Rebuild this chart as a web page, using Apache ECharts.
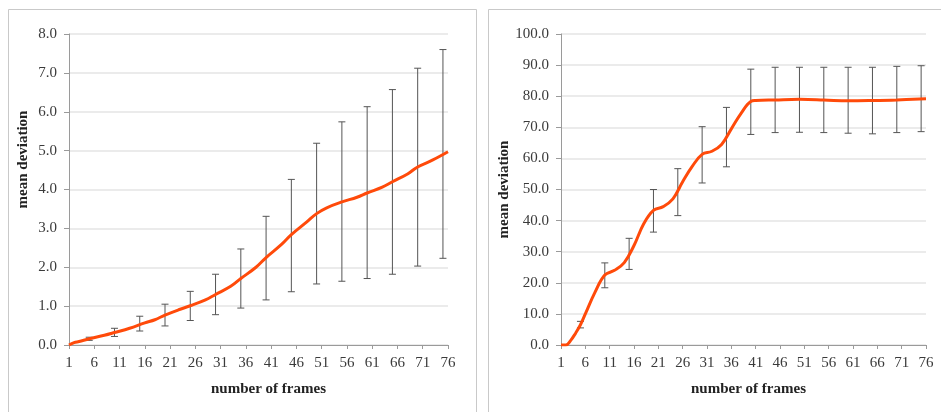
<!DOCTYPE html>
<html>
<head>
<meta charset="utf-8">
<script src="https://cdn.jsdelivr.net/npm/echarts@6/dist/echarts.min.js"></script>
<style>
  html, body { margin: 0; padding: 0; background: #fff; }
  #chart { width: 941px; height: 412px; }
</style>
</head>
<body>
<div id="chart"></div>
<script>
  // frame numbers on the x axis
  var frames = [];
  for (var i = 1; i <= 76; i++) frames.push(String(i));

  // left panel: mean line (frame, value)
  var leftLineFrames = [1, 2, 3, 5, 8, 10, 13, 16, 18, 20, 23, 25, 28, 30, 33, 35, 38, 40, 43, 45, 48, 50, 52, 55, 58, 60, 63, 65, 68, 70, 73, 76];
  var leftLineValues = [0, 0.06, 0.09, 0.16, 0.25, 0.32, 0.43, 0.57, 0.65, 0.77, 0.92, 1.01, 1.16, 1.30, 1.51, 1.71, 2.00, 2.25, 2.58, 2.84, 3.16, 3.38, 3.53, 3.68, 3.80, 3.91, 4.06, 4.20, 4.40, 4.58, 4.76, 4.97];

  // error bars, both panels share the same frames
  var errFrames = [5, 10, 15, 20, 25, 30, 35, 40, 45, 50, 55, 60, 65, 70, 75];
  var leftErrLow = [0.12, 0.22, 0.36, 0.49, 0.63, 0.78, 0.95, 1.16, 1.37, 1.57, 1.64, 1.71, 1.82, 2.03, 2.23];
  var leftErrHigh = [0.20, 0.43, 0.74, 1.05, 1.38, 1.82, 2.47, 3.31, 4.26, 5.19, 5.74, 6.13, 6.57, 7.12, 7.60];

  // right panel: mean line
  var rightLineFrames = [1, 2, 3, 4, 5, 6, 8, 10, 12, 14, 16, 18, 20, 22, 24, 26, 28, 30, 32, 34, 36, 38, 40, 41, 45, 50, 55, 60, 65, 70, 76];
  var rightLineValues = [0, 0, 1.5, 3.8, 6.5, 10, 17, 22.5, 24, 26.5, 32, 39, 43.3, 44.5, 47, 52.5, 57.5, 61.3, 62.3, 64.5, 69.5, 74.5, 78.3, 78.6, 78.8, 79, 78.8, 78.5, 78.6, 78.8, 79.2];
  var rightErrLow = [5.5, 18.4, 24.3, 36.3, 41.6, 52.1, 57.3, 67.7, 68.3, 68.4, 68.3, 68.1, 67.9, 68.3, 68.6];
  var rightErrHigh = [7.6, 26.4, 34.3, 50.0, 56.7, 70.2, 76.4, 88.7, 89.3, 89.3, 89.3, 89.3, 89.3, 89.6, 89.8];

  var leftTicks = { min: 0, max: 8, interval: 1 };
  var rightTicks = { min: 0, max: 100, interval: 10 };

  var textColor = '#3a3a3a';
  var fontFamily = '"Liberation Serif", "DejaVu Serif", serif';
  var lineColor = '#ff4a0a';

  function pairs(xs, ys) {
    return xs.map(function (f, k) { return [f - 1, ys[k]]; });
  }
  function errData(lo, hi) {
    return errFrames.map(function (f, k) { return [f - 1, lo[k], hi[k]]; });
  }

  function renderErr(params, api) {
    var x = api.value(0);
    var top = api.coord([x, api.value(2)]);
    var bot = api.coord([x, api.value(1)]);
    var cap = 3.5;
    var style = { stroke: '#555', lineWidth: 1, fill: null };
    return {
      type: 'group',
      children: [
        { type: 'line', shape: { x1: top[0], y1: top[1], x2: bot[0], y2: bot[1] }, style: style },
        { type: 'line', shape: { x1: top[0] - cap, y1: top[1], x2: top[0] + cap, y2: top[1] }, style: style },
        { type: 'line', shape: { x1: bot[0] - cap, y1: bot[1], x2: bot[0] + cap, y2: bot[1] }, style: style }
      ]
    };
  }

  function xAxisFor(gridIndex, shift) {
    return {
      type: 'category',
      gridIndex: gridIndex,
      data: frames,
      boundaryGap: false,
      name: 'number of frames',
      nameLocation: 'middle',
      nameGap: 37,
      nameTextStyle: { fontFamily: fontFamily, fontWeight: 'bold', fontSize: 15, color: '#222', padding: [0, 0, 0, shift] },
      axisLine: { lineStyle: { color: '#9a9a9a' } },
      axisTick: { interval: 4, length: 4, lineStyle: { color: '#9a9a9a' } },
      axisLabel: { interval: 4, margin: 11, fontFamily: fontFamily, fontSize: 15, color: textColor },
      splitLine: { show: false }
    };
  }

  function yAxisFor(gridIndex, t, gap, shift) {
    return {
      type: 'value',
      gridIndex: gridIndex,
      min: t.min,
      max: t.max,
      interval: t.interval,
      name: 'mean deviation',
      nameLocation: 'middle',
      nameRotate: 90,
      nameGap: gap,
      nameTextStyle: { fontFamily: fontFamily, fontWeight: 'bold', fontSize: 15, color: '#222', padding: [0, 0, 0, shift] },
      axisLine: { show: true, lineStyle: { color: '#9a9a9a' } },
      axisTick: { show: true, length: 5, lineStyle: { color: '#9a9a9a' } },
      axisLabel: {
        margin: 12, fontFamily: fontFamily, fontSize: 15, color: textColor,
        formatter: function (v) { return v.toFixed(1); }
      },
      splitLine: { lineStyle: { color: '#e4e4e4', width: 1.5 } }
    };
  }

  var chart = echarts.init(document.getElementById('chart'));
  chart.setOption({
    animation: false,
    backgroundColor: '#fff',
    graphic: [
      { type: 'rect', shape: { x: 8.5, y: 9.5, width: 468, height: 420 }, style: { fill: null, stroke: '#c9c9c9', lineWidth: 1 }, silent: true },
      { type: 'rect', shape: { x: 488.5, y: 9.5, width: 470, height: 420 }, style: { fill: null, stroke: '#c9c9c9', lineWidth: 1 }, silent: true }
    ],
    grid: [
      { left: 69, top: 34, width: 379, height: 311 },
      { left: 561, top: 34, width: 365, height: 311 }
    ],
    xAxis: [xAxisFor(0, 20), xAxisFor(1, 10)],
    yAxis: [yAxisFor(0, leftTicks, 38, 60), yAxisFor(1, rightTicks, 47, 0)],
    series: [
      {
        type: 'custom', xAxisIndex: 0, yAxisIndex: 0,
        renderItem: renderErr, encode: { x: 0, y: [1, 2] },
        data: errData(leftErrLow, leftErrHigh), z: 2
      },
      {
        type: 'line', xAxisIndex: 0, yAxisIndex: 0,
        smooth: 0.4, symbol: 'none',
        lineStyle: { color: lineColor, width: 3 },
        data: pairs(leftLineFrames, leftLineValues), z: 3
      },
      {
        type: 'custom', xAxisIndex: 1, yAxisIndex: 1,
        renderItem: renderErr, encode: { x: 0, y: [1, 2] },
        data: errData(rightErrLow, rightErrHigh), z: 2
      },
      {
        type: 'line', xAxisIndex: 1, yAxisIndex: 1,
        smooth: 0.4, symbol: 'none',
        lineStyle: { color: lineColor, width: 3 },
        data: pairs(rightLineFrames, rightLineValues), z: 3
      }
    ]
  });
</script>
</body>
</html>
